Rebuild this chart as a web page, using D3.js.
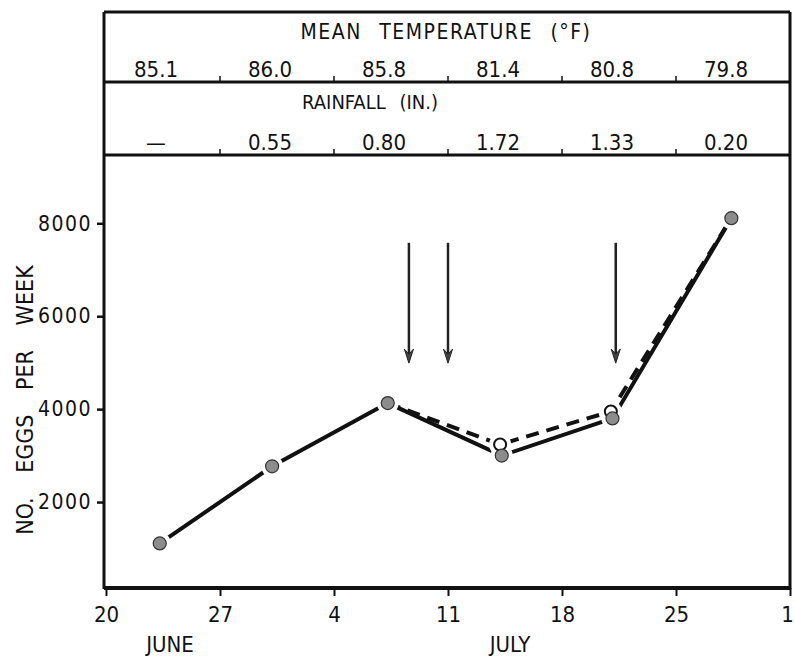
<!DOCTYPE html>
<html>
<head>
<meta charset="utf-8">
<script src="https://cdn.jsdelivr.net/npm/d3@7"></script>
<style>
  body { margin: 0; background: #fff; }
  text { font-family: "DejaVu Sans Condensed", "Liberation Sans Narrow", sans-serif; fill: #111; }
</style>
</head>
<body>
<svg id="chart" width="795" height="656"></svg>
<script>
// day offsets from June 20
const tickDays = [0, 7, 14, 21, 28, 35, 42];
const tickLabels = ["20", "27", "4", "11", "18", "25", "1"];
const yTicks = [2000, 4000, 6000, 8000];

// weekly header rows
const tempValues = ["85.1", "86.0", "85.8", "81.4", "80.8", "79.8"];
const rainValues = ["—", "0.55", "0.80", "1.72", "1.33", "0.20"];

// eggs per week, filled points (solid line)
const solidDays = [3.3, 10.2, 17.3, 24.3, 31.1, 38.4];
const solidEggs = [1110, 2770, 4130, 3000, 3800, 8110];
// open points (dashed line)
const dashDays = [17.3, 24.2, 31.0, 38.4];
const dashEggs = [4130, 3240, 3950, 8110];
const openDays = [24.2, 31.0];
const openEggs = [3240, 3950];

// arrows
const arrowDays = [18.6, 21.0, 31.3];
const arrowTop = 7580, arrowBottom = 4990;

const svg = d3.select("#chart");

const x = d3.scaleLinear().domain([0, 42]).range([106, 790]);
const y = d3.scaleLinear().domain([150, 9470]).range([588, 155]);

const rowTop = 12, rowTemp = 82, rowRain = 155, left = 104, right = 790;

// frame lines
const frame = svg.append("g").attr("stroke", "#111").attr("fill", "none");
frame.append("line").attr("x1", left).attr("x2", right).attr("y1", rowTop).attr("y2", rowTop).attr("stroke-width", 3);
frame.append("line").attr("x1", left).attr("x2", right).attr("y1", rowTemp).attr("y2", rowTemp).attr("stroke-width", 3);
frame.append("line").attr("x1", left).attr("x2", right).attr("y1", rowRain).attr("y2", rowRain).attr("stroke-width", 3);
frame.append("line").attr("x1", left).attr("x2", left).attr("y1", rowTop).attr("y2", rowRain).attr("stroke-width", 3);
frame.append("line").attr("x1", right).attr("x2", right).attr("y1", rowTop).attr("y2", 589).attr("stroke-width", 3);

// header ticks at week boundaries
const inner = tickDays.slice(1, -1);
[rowTemp, rowRain].forEach((yy) => {
  frame.selectAll(null).data(inner).join("line")
    .attr("x1", (d) => x(d)).attr("x2", (d) => x(d))
    .attr("y1", yy - 6).attr("y2", yy)
    .attr("stroke-width", 1.5);
});

// header text
svg.append("text").attr("x", 446).attr("y", 39).attr("text-anchor", "middle")
  .style("font-size", "21px").attr("letter-spacing", "1.5").attr("word-spacing", "10")
  .text("MEAN  TEMPERATURE  (°F)");
svg.append("text").attr("x", 370).attr("y", 109).attr("text-anchor", "middle")
  .style("font-size", "20px").attr("word-spacing", "8")
  .text("RAINFALL  (IN.)");

svg.selectAll(".temp").data(tempValues).join("text").attr("class", "temp")
  .attr("x", (d, i) => x(i * 7 + 3.5) - 7).attr("y", 77)
  .attr("text-anchor", "middle").style("font-size", "22px").text((d) => d);

svg.selectAll(".rain").data(rainValues).join("text").attr("class", "rain")
  .attr("x", (d, i) => x(i * 7 + 3.5) - 7).attr("y", 150)
  .attr("text-anchor", "middle").style("font-size", "22px").text((d) => d);

// axes
const xAxis = svg.append("g").attr("transform", "translate(0,588)")
  .call(d3.axisBottom(x).tickValues(tickDays).tickSize(8).tickFormat((d, i) => tickLabels[i]));
xAxis.select(".domain").attr("stroke", "#111").attr("stroke-width", 4).attr("d", `M${left},0H${right}`);
xAxis.selectAll(".tick line").attr("stroke", "#111").attr("stroke-width", 2);
xAxis.selectAll(".tick text").attr("y", 18).style("font-size", "22px").attr("font-family", null)
  .attr("dx", (d, i) => (i === tickDays.length - 1 ? -3 : 0));

const yAxis = svg.append("g").attr("transform", `translate(${left},0)`)
  .call(d3.axisLeft(y).tickValues(yTicks).tickSize(7).tickFormat((d) => d));
yAxis.select(".domain").attr("stroke", "#111").attr("stroke-width", 3).attr("d", `M0,${rowRain}V589`);
yAxis.selectAll(".tick line").attr("stroke", "#111").attr("stroke-width", 2.5);
yAxis.selectAll(".tick text").attr("x", -12).style("font-size", "21px").attr("letter-spacing", "1.5").attr("font-family", null);

svg.append("text").attr("x", 170).attr("y", 652).attr("text-anchor", "middle").style("font-size", "22px").text("JUNE");
svg.append("text").attr("x", 510).attr("y", 652).attr("text-anchor", "middle").style("font-size", "22px").text("JULY");

svg.append("text").attr("transform", "translate(33,400) rotate(-90)").attr("text-anchor", "middle")
  .style("font-size", "23px").attr("word-spacing", "18").text("NO.  EGGS  PER  WEEK");

// lines
const solidPts = solidDays.map((d, i) => [d, solidEggs[i]]);
const dashPts = dashDays.map((d, i) => [d, dashEggs[i]]);
const openPts = openDays.map((d, i) => [d, openEggs[i]]);
const line = d3.line().x((d) => x(d[0])).y((d) => y(d[1]));

svg.append("path").datum(dashPts).attr("d", line).attr("fill", "none")
  .attr("stroke", "#111").attr("stroke-width", 4).attr("stroke-dasharray", "13,8");
svg.append("path").datum(solidPts).attr("d", line).attr("fill", "none")
  .attr("stroke", "#111").attr("stroke-width", 4);

// white halos to break the line at markers
svg.selectAll(".halo").data(solidPts.concat(openPts)).join("circle").attr("class", "halo")
  .attr("cx", (d) => x(d[0])).attr("cy", (d) => y(d[1])).attr("r", 11).attr("fill", "#fff");

svg.selectAll(".open").data(openPts).join("circle").attr("class", "open")
  .attr("cx", (d) => x(d[0])).attr("cy", (d) => y(d[1])).attr("r", 6)
  .attr("fill", "#fff").attr("stroke", "#111").attr("stroke-width", 2);

svg.selectAll(".filled").data(solidPts).join("circle").attr("class", "filled")
  .attr("cx", (d) => x(d[0])).attr("cy", (d) => y(d[1])).attr("r", 6.5)
  .attr("fill", "#8c8c8c").attr("stroke", "#333").attr("stroke-width", 1.2);

// arrows
const arrows = svg.selectAll(".arrow").data(arrowDays).join("g").attr("class", "arrow");
arrows.append("line")
  .attr("x1", (d) => x(d)).attr("x2", (d) => x(d))
  .attr("y1", y(arrowTop)).attr("y2", y(arrowBottom) - 6)
  .attr("stroke", "#222").attr("stroke-width", 2.5);
arrows.append("path")
  .attr("d", (d) => {
    const ax = x(d), ay = y(arrowBottom);
    return `M${ax - 4.5},${ay - 14}L${ax},${ay - 9}L${ax + 4.5},${ay - 14}L${ax},${ay}Z`;
  })
  .attr("fill", "#444").attr("stroke", "#222").attr("stroke-width", 1);
</script>
</body>
</html>
